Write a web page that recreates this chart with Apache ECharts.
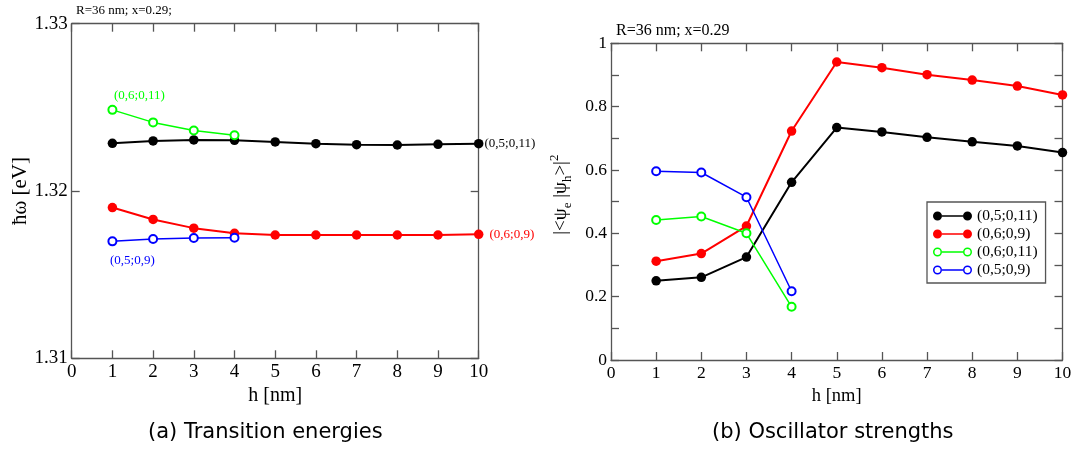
<!DOCTYPE html>
<html>
<head>
<meta charset="utf-8">
<script src="https://cdn.jsdelivr.net/npm/echarts@6/dist/echarts.min.js"></script>
<style>
  html, body { margin: 0; padding: 0; background: #fff; }
  #charts { width: 1078px; height: 452px; }
</style>
</head>
<body>
<div id="charts"></div>
<script>
// h [nm] values shared by both panels
var hValues = [1, 2, 3, 4, 5, 6, 7, 8, 9, 10];
var hShort = [1, 2, 3, 4];

// (a) transition energies, eV
var energyBlack = [1.32285, 1.32299, 1.32305, 1.32303, 1.32293, 1.32283, 1.32277, 1.32275, 1.32279, 1.32283];
var energyRed = [1.31901, 1.31830, 1.31778, 1.31747, 1.31737, 1.31737, 1.31737, 1.31737, 1.31737, 1.31741];
var energyGreen = [1.32485, 1.32410, 1.32362, 1.32333];
var energyBlue = [1.31699, 1.31713, 1.31719, 1.31721];

// (b) oscillator strengths
var oscBlack = [0.250, 0.261, 0.325, 0.561, 0.734, 0.720, 0.703, 0.689, 0.676, 0.655];
var oscRed = [0.312, 0.336, 0.423, 0.723, 0.941, 0.923, 0.901, 0.884, 0.865, 0.837];
var oscGreen = [0.442, 0.453, 0.400, 0.168];
var oscBlue = [0.596, 0.592, 0.514, 0.217];

var names = ['(0,5;0,11)', '(0,6;0,9)', '(0,6;0,11)', '(0,5;0,9)'];
var colors = ['#000000', '#ff0000', '#00ff00', '#0000ff'];

var serif = 'Liberation Serif';
var axisColor = '#555';

var myChart = echarts.init(document.getElementById('charts'));

function pairs(xs, ys) {
    return ys.map(function (v, i) { return [xs[i], v]; });
}

function xAxisFor(grid, pos, fontSize, withName, nameGap) {
    return {
        type: 'value', gridIndex: grid, position: pos,
        min: 0, max: 10, interval: 1,
        axisLine: { show: true, onZero: false, lineStyle: { color: axisColor, width: 1.3 } },
        axisTick: { show: true, inside: true, length: 8, lineStyle: { color: axisColor, width: 1.3 } },
        axisLabel: { show: withName, margin: 4, color: '#000', fontFamily: serif, fontSize: fontSize },
        splitLine: { show: false },
        name: withName ? 'h [nm]' : '',
        nameLocation: 'middle',
        nameGap: nameGap,
        nameTextStyle: { color: '#000', fontFamily: serif, fontSize: fontSize + 1 }
    };
}

function yFrame(grid, pos, min, max, interval, minor) {
    return {
        type: 'value', gridIndex: grid, position: pos,
        min: min, max: max, interval: interval,
        axisLine: { show: true, onZero: false, lineStyle: { color: axisColor, width: 1.3 } },
        axisTick: { show: true, inside: true, length: 8, lineStyle: { color: axisColor, width: 1.3 } },
        minorTick: { show: minor, splitNumber: 2, length: 8, lineStyle: { color: axisColor, width: 1.3 } },
        axisLabel: { show: false },
        splitLine: { show: false }
    };
}

function markSeries(name, color, xs, ys, filled, xIdx, yIdx, labelIndex, labelCfg) {
    var data = pairs(xs, ys);
    if (labelIndex !== null) {
        data[labelIndex] = {
            value: data[labelIndex],
            label: Object.assign({
                show: true, formatter: name, color: color,
                fontFamily: serif, fontSize: 13
            }, labelCfg)
        };
    }
    return {
        type: 'line', name: name,
        xAxisIndex: xIdx, yAxisIndex: yIdx,
        data: data,
        symbol: filled ? 'circle' : 'emptyCircle',
        symbolSize: filled ? 9.5 : 8,
        showAllSymbol: true,
        lineStyle: { color: color, width: filled ? 2 : 1.5 },
        itemStyle: { color: color, borderColor: color, borderWidth: filled ? 0 : 1.5 },
        emphasis: { disabled: true },
        animation: false,
        z: 3
    };
}

var filledIcon = 'path://M0,4.5A4.5,4.5,0,1,1,9,4.5A4.5,4.5,0,1,1,0,4.5Z' +
    'M9,3.7L30,3.7L30,5.3L9,5.3Z' +
    'M30,4.5A4.5,4.5,0,1,1,39,4.5A4.5,4.5,0,1,1,30,4.5Z';
var hollowIcon = 'path://M0,4.5A4.5,4.5,0,1,1,9,4.5A4.5,4.5,0,1,1,0,4.5Z' +
    'M1.5,4.5A3,3,0,1,0,7.5,4.5A3,3,0,1,0,1.5,4.5Z' +
    'M9,3.8L30,3.8L30,5.2L9,5.2Z' +
    'M30,4.5A4.5,4.5,0,1,1,39,4.5A4.5,4.5,0,1,1,30,4.5Z' +
    'M31.5,4.5A3,3,0,1,0,37.5,4.5A3,3,0,1,0,31.5,4.5Z';

var option = {
    animation: false,
    backgroundColor: '#fff',
    title: [
        { text: 'R=36 nm; x=0.29;', left: 76, top: 4, padding: 0,
          textStyle: { fontFamily: serif, fontSize: 13, fontWeight: 'normal', color: '#000' } },
        { text: 'R=36 nm; x=0.29', left: 616, top: 23, padding: 0,
          textStyle: { fontFamily: serif, fontSize: 16, fontWeight: 'normal', color: '#000' } },
        { text: '(a) Transition energies', left: 148, top: 422, padding: 0,
          textStyle: { fontFamily: 'DejaVu Sans', fontSize: 21, fontWeight: 'normal', color: '#000' } },
        { text: '(b) Oscillator strengths', left: 712, top: 422, padding: 0,
          textStyle: { fontFamily: 'DejaVu Sans', fontSize: 21, fontWeight: 'normal', color: '#000' } }
    ],
    grid: [
        { left: 71.7, top: 23.7, width: 407, height: 334.6 },
        { left: 611, top: 43.3, width: 451.5, height: 316.7 }
    ],
    legend: {
        left: 927, top: 202,
        orient: 'vertical',
        selectedMode: false,
        backgroundColor: '#fff',
        borderColor: axisColor, borderWidth: 1.3,
        padding: [6, 8, 5, 6],
        itemGap: 2,
        itemWidth: 39, itemHeight: 9,
        textStyle: { fontFamily: serif, fontSize: 15.5, color: '#000' },
        data: names.map(function (n, i) {
            return {
                name: n,
                icon: i < 2 ? filledIcon : hollowIcon,
                itemStyle: { color: colors[i], borderWidth: 0 }
            };
        })
    },
    xAxis: [
        xAxisFor(0, 'bottom', 19, true, 22.5),
        xAxisFor(0, 'top', 19, false, 0),
        xAxisFor(1, 'bottom', 17.5, true, 22.5),
        xAxisFor(1, 'top', 17.5, false, 0)
    ],
    yAxis: [
        Object.assign(yFrame(0, 'left', 1.31, 1.33, 0.01, false), {
            axisLabel: { show: true, margin: 4, color: '#000', fontFamily: serif, fontSize: 19,
                         formatter: function (v) { return v.toFixed(2); } },
            name: 'ħω [eV]', nameLocation: 'middle', nameGap: 41,
            nameTextStyle: { color: '#000', fontFamily: serif, fontSize: 21 }
        }),
        yFrame(0, 'right', 1.31, 1.33, 0.01, false),
        Object.assign(yFrame(1, 'left', 0, 1, 0.2, true), {
            axisLabel: { show: true, margin: 4, color: '#000', fontFamily: serif, fontSize: 17.5 },
            name: '{m||<ψ}{s|e}{m| |ψ}{s|h}{m|>|}{p|2}',
            nameLocation: 'middle', nameGap: 37,
            nameTextStyle: {
                color: '#000', fontFamily: serif, padding: [0, 0, 0, 14],
                rich: {
                    m: { fontFamily: serif, fontSize: 19, lineHeight: 26, verticalAlign: 'middle', color: '#000' },
                    s: { fontFamily: serif, fontSize: 13, lineHeight: 13, verticalAlign: 'bottom', color: '#000' },
                    p: { fontFamily: serif, fontSize: 13, lineHeight: 13, verticalAlign: 'top', color: '#000' }
                }
            }
        }),
        yFrame(1, 'right', 0, 1, 0.2, true)
    ],
    series: [
        markSeries(names[0], colors[0], hValues, energyBlack, true, 0, 0, 9, { position: 'right', distance: 1 }),
        markSeries(names[1], colors[1], hValues, energyRed, true, 0, 0, 9, { position: 'right', distance: 6 }),
        markSeries(names[2], colors[2], hShort, energyGreen, false, 0, 0, 0, { position: 'top', distance: 3, offset: [27, 0] }),
        markSeries(names[3], colors[3], hShort, energyBlue, false, 0, 0, 0, { position: 'bottom', distance: 8, offset: [20, 0] }),
        markSeries(names[0], colors[0], hValues, oscBlack, true, 2, 2, null),
        markSeries(names[1], colors[1], hValues, oscRed, true, 2, 2, null),
        markSeries(names[2], colors[2], hShort, oscGreen, false, 2, 2, null),
        markSeries(names[3], colors[3], hShort, oscBlue, false, 2, 2, null)
    ]
};

myChart.setOption(option);
</script>
</body>
</html>
